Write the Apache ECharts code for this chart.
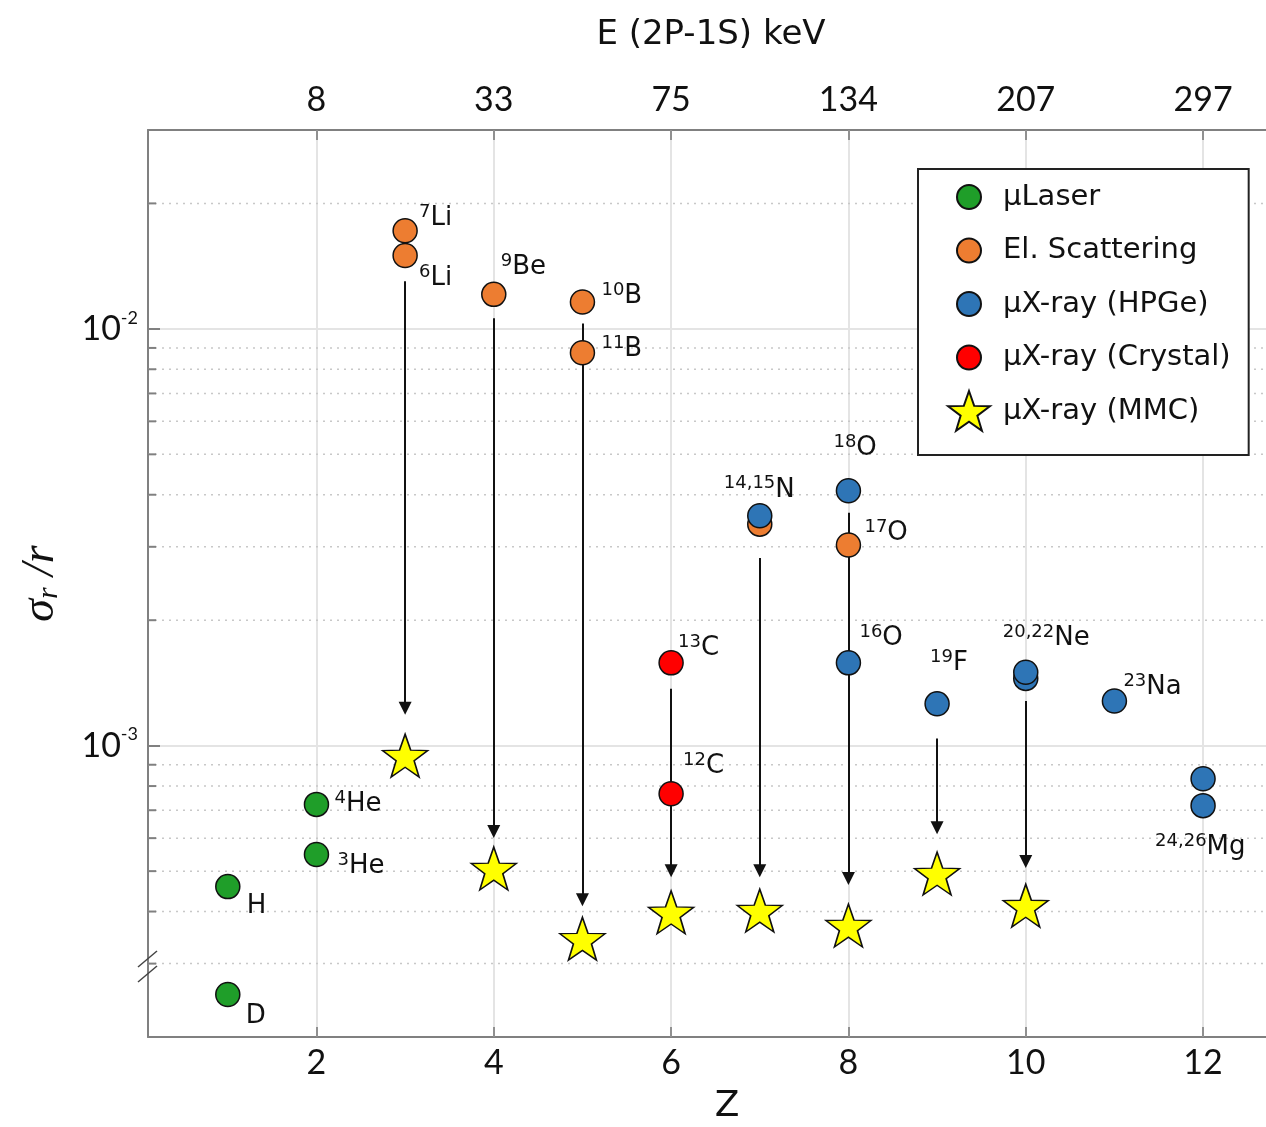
<!DOCTYPE html>
<html>
<head>
    <meta charset="utf-8">
    <title>sigma_r / r vs Z</title>
    <script src="https://cdn.jsdelivr.net/npm/echarts@6.0.0/dist/echarts.min.js"></script>
</head>
<body style="margin: 0">
    <div id="main" style="width: 1266px; height: 1127px"></div>
    <script type="text/javascript">

        // axis ticks
        const zTicks = [2, 4, 6, 8, 10, 12];
        const energyLabels = ['8', '33', '75', '134', '207', '297'];
        const yMinor = [3e-4, 4e-4, 5e-4, 6e-4, 7e-4, 8e-4, 9e-4,
                        2e-3, 3e-3, 4e-3, 5e-3, 6e-3, 7e-3, 8e-3, 9e-3, 2e-2];

        // muLaser
        const laserZ   = [1, 1, 2, 2];
        const laserVal = [4.59e-4, 2.53e-4, 5.48e-4, 7.23e-4];
        const laserSup = ['', '', '3', '4'];
        const laserSym = ['H', 'D', 'He', 'He'];

        // electron scattering
        const scatZ   = [3, 3, 4, 5, 5, 7, 8];
        const scatVal = [1.72e-2, 1.50e-2, 1.21e-2, 1.16e-2, 8.76e-3, 3.40e-3, 3.03e-3];
        const scatSup = ['7', '6', '9', '10', '11', '', '17'];
        const scatSym = ['Li', 'Li', 'Be', 'B', 'B', '', 'O'];

        // muX-ray HPGe
        const hpgeZ   = [7, 8, 8, 9, 10, 10, 11, 12, 12];
        const hpgeVal = [3.56e-3, 4.09e-3, 1.58e-3, 1.26e-3, 1.45e-3, 1.50e-3, 1.28e-3, 8.33e-4, 7.18e-4];
        const hpgeSup = ['14,15', '18', '16', '19', '', '20,22', '23', '', '24,26'];
        const hpgeSym = ['N', 'O', 'O', 'F', '', 'Ne', 'Na', '', 'Mg'];

        // muX-ray crystal
        const crystZ   = [6, 6];
        const crystVal = [1.58e-3, 7.67e-4];
        const crystSup = ['13', '12'];
        const crystSym = ['C', 'C'];

        // muX-ray MMC (projected)
        const mmcZ   = [3, 4, 5, 6, 7, 8, 9, 10];
        const mmcVal = [9.46e-4, 5.07e-4, 3.44e-4, 3.98e-4, 4.02e-4, 3.70e-4, 4.93e-4, 4.13e-4];

        // arrows (start, arrow head)
        const arrowZ    = [3, 4, 5, 6, 7, 8, 9, 10];
        const arrowFrom = [1.30e-2, 1.06e-2, 1.03e-2, 1.37e-3, 2.82e-3, 3.62e-3, 1.04e-3, 1.28e-3];
        const arrowTo   = [1.23e-3, 6.22e-4, 4.27e-4, 5.01e-4, 5.01e-4, 4.80e-4, 6.35e-4, 5.27e-4];

        // label offsets (left edge / middle, px from the marker centre)
        const labelPos = {
            'H': [19, 20], 'D': [18, 22], '3He': [21, 12], '4He': [18, 0],
            '7Li': [14, -12], '6Li': [14, 23], '9Be': [7, -27], '10B': [19, -6], '11B': [19, -4],
            '17O': [16, -12], '14,15N': [-36, -26], '18O': [-15, -42], '16O': [11, -25],
            '19F': [-7, -41], '20,22Ne': [-23, -34], '23Na': [9, -14], '24,26Mg': [-48, 42],
            '13C': [7, -15], '12C': [12, -27]
        };

        const zMin = 0.1, zMax = 12.8;
        const numFont = 'Lato';
        const txtFont = 'DejaVu Sans';

        const circleIcon = 'path://M0,0M50,40M13,20A12,12,0,1,1,37,20A12,12,0,1,1,13,20Z';
        const starIcon = 'path://M0,0M50,40M25,0L30.17,14.88L45.92,15.2L33.37,24.72L37.93,39.8L25,30.8L12.07,39.8L16.63,24.72L4.08,15.2L19.83,14.88Z';

        function points(zs, vals, sups, syms) {
            return zs.map(function (z, i) {
                const key = sups ? sups[i] + syms[i] : '';
                const item = { value: [z, vals[i]] };
                if (sups && syms[i]) {
                    item.label = {
                        show: true,
                        formatter: (sups[i] ? '{s|' + sups[i] + '}' : '') + '{t|' + syms[i] + '}',
                        offset: labelPos[key]
                    };
                }
                return item;
            });
        }

        const isoLabel = {
            show: false,
            position: 'inside',
            align: 'left',
            verticalAlign: 'middle',
            rich: {
                s: { fontFamily: txtFont, fontSize: 18, color: '#111', verticalAlign: 'top', lineHeight: 19 },
                t: { fontFamily: txtFont, fontSize: 26, color: '#111', lineHeight: 30 }
            }
        };

        function dotSeries(name, color, zs, vals, sups, syms) {
            return {
                name: name,
                type: 'scatter',
                z: 3,
                symbol: 'circle',
                symbolSize: 24,
                itemStyle: { color: color, borderColor: '#111', borderWidth: 1.5, opacity: 1 },
                label: isoLabel,
                data: points(zs, vals, sups, syms)
            };
        }

        const myChart = echarts.init(document.getElementById('main'));

        const option = {
            backgroundColor: '#fff',
            animation: false,
            grid: { left: 148, right: -8, top: 130, bottom: 90, outerBoundsMode: 'none' },
            legend: {
                orient: 'vertical',
                left: 918,
                top: 169,
                itemWidth: 50,
                itemHeight: 40,
                itemGap: 11.5,
                padding: [7, 18, 23, 25],
                backgroundColor: '#fff',
                borderColor: '#222',
                borderWidth: 2,
                selectedMode: false,
                textStyle: { fontFamily: txtFont, fontSize: 29, lineHeight: 40, color: '#111', padding: [0, 0, 0, 4] },
                data: [
                    { name: 'µLaser', icon: circleIcon },
                    { name: 'El. Scattering', icon: circleIcon },
                    { name: 'µX-ray (HPGe)', icon: circleIcon },
                    { name: 'µX-ray (Crystal)', icon: circleIcon },
                    { name: 'µX-ray (MMC)', icon: starIcon }
                ]
            },
            xAxis: [
                {
                    type: 'value',
                    position: 'bottom',
                    min: zMin,
                    max: zMax,
                    name: 'Z',
                    nameLocation: 'middle',
                    nameGap: 52,
                    nameTextStyle: { fontFamily: txtFont, fontSize: 36, color: '#111', padding: [0, 0, 0, 32] },
                    axisLine: { show: true, onZero: false, lineStyle: { color: '#808080', width: 2 } },
                    axisTick: { show: true, inside: true, length: 10, customValues: zTicks,
                                lineStyle: { color: '#909090', width: 2 } },
                    axisLabel: { customValues: zTicks, margin: 9, fontFamily: numFont, fontSize: 34, color: '#111' },
                    splitLine: { show: true, lineStyle: { color: '#e4e4e4', width: 2 } }
                },
                {
                    type: 'value',
                    position: 'top',
                    min: zMin,
                    max: zMax,
                    name: 'E (2P-1S) keV',
                    nameLocation: 'middle',
                    nameGap: 78,
                    nameTextStyle: { fontFamily: txtFont, fontSize: 34, color: '#111' },
                    axisLine: { show: true, onZero: false, lineStyle: { color: '#808080', width: 2 } },
                    axisTick: { show: true, inside: true, length: 10, customValues: zTicks,
                                lineStyle: { color: '#909090', width: 2 } },
                    axisLabel: {
                        customValues: zTicks, margin: 13, fontFamily: numFont, fontSize: 34, color: '#111',
                        formatter: function (v) { return energyLabels[zTicks.indexOf(Math.round(v))] || ''; }
                    },
                    splitLine: { show: false }
                }
            ],
            yAxis: {
                type: 'log',
                logBase: 10,
                min: 2e-4,
                max: 3e-2,
                name: '{i|σ}{sub|r}{i| /r}',
                nameLocation: 'middle',
                nameGap: 84,
                nameTextStyle: {
                    rich: {
                        i: { fontFamily: 'Liberation Serif', fontStyle: 'italic', fontSize: 46, color: '#111' },
                        sub: { fontFamily: 'Liberation Serif', fontStyle: 'italic', fontSize: 30, color: '#111',
                               verticalAlign: 'bottom', lineHeight: 40 }
                    }
                },
                axisLine: { show: true, lineStyle: { color: '#808080', width: 2 } },
                axisTick: { show: true, inside: true, length: 12, lineStyle: { color: '#808080', width: 2 } },
                axisLabel: {
                    margin: 10,
                    formatter: function (v) {
                        const e = Math.log10(v);
                        if (Math.abs(e - Math.round(e)) < 1e-6) return '{b|10}{s|' + Math.round(e) + '}';
                        return '';
                    },
                    rich: {
                        b: { fontFamily: numFont, fontSize: 34, color: '#111', lineHeight: 40 },
                        s: { fontFamily: numFont, fontSize: 18, color: '#111', verticalAlign: 'top', lineHeight: 18 }
                    }
                },
                splitLine: { show: true, lineStyle: { color: '#e4e4e4', width: 2 } }
            },
            graphic: [
                // axis break mark
                { type: 'line', shape: { x1: 138, y1: 967, x2: 157, y2: 951 }, style: { stroke: '#444', lineWidth: 1.5 }, z: 10 },
                { type: 'line', shape: { x1: 138, y1: 982, x2: 157, y2: 966 }, style: { stroke: '#444', lineWidth: 1.5 }, z: 10 }
            ],
            series: [
                {
                    // minor grid lines and minor ticks of the log axis
                    type: 'custom',
                    silent: true,
                    z: 1,
                    data: yMinor.map(function (v) { return [zMin, v]; }),
                    renderItem: function (params, api) {
                        const p = api.coord([api.value(0), api.value(1)]);
                        const cs = params.coordSys;
                        return {
                            type: 'group',
                            children: [
                                { type: 'line', shape: { x1: cs.x, y1: p[1], x2: cs.x + cs.width, y2: p[1] },
                                  style: { stroke: '#c8c8c8', lineWidth: 1.5, lineDash: [2, 5] } },
                                { type: 'line', shape: { x1: cs.x, y1: p[1], x2: cs.x + 8, y2: p[1] },
                                  style: { stroke: '#808080', lineWidth: 2 } }
                            ]
                        };
                    }
                },
                {
                    type: 'lines',
                    coordinateSystem: 'cartesian2d',
                    silent: true,
                    z: 2,
                    symbol: ['none', 'triangle'],
                    symbolSize: 13,
                    lineStyle: { color: '#111', width: 2, opacity: 1, curveness: 0 },
                    data: arrowZ.map(function (z, i) {
                        return { coords: [[z, arrowFrom[i]], [z, arrowTo[i]]] };
                    })
                },
                dotSeries('µLaser', '#1f9e29', laserZ, laserVal, laserSup, laserSym),
                dotSeries('El. Scattering', '#ed7d31', scatZ, scatVal, scatSup, scatSym),
                dotSeries('µX-ray (HPGe)', '#2e75b6', hpgeZ, hpgeVal, hpgeSup, hpgeSym),
                dotSeries('µX-ray (Crystal)', '#ff0000', crystZ, crystVal, crystSup, crystSym),
                {
                    name: 'µX-ray (MMC)',
                    type: 'scatter',
                    z: 4,
                    symbol: starIcon,
                    symbolSize: [54, 43],
                    itemStyle: { color: '#ffff00', borderColor: '#111', borderWidth: 1.5, opacity: 1 },
                    data: points(mmcZ, mmcVal)
                }
            ]
        };

        myChart.setOption(option);
    </script>
</body>
</html>
